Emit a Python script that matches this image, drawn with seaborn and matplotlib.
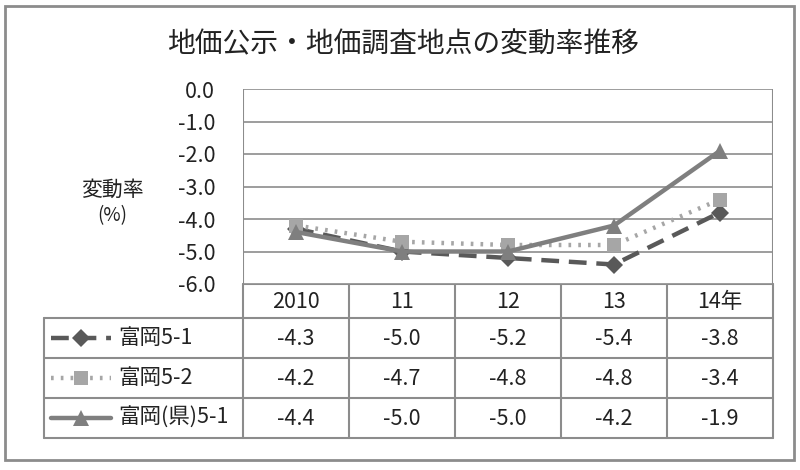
import matplotlib
matplotlib.use("Agg")
import matplotlib.pyplot as plt
import seaborn as sns
import pandas as pd
from matplotlib.lines import Line2D
from matplotlib.patches import Rectangle

sns.set_style("white")
plt.rcParams['font.family'] = ['Noto Sans CJK JP', 'DejaVu Sans']

# data
years = ["2010", "11", "12", "13", "14年"]
series_names = ["富岡5-1", "富岡5-2", "富岡(県)5-1"]
tomioka_5_1 = [-4.3, -5.0, -5.2, -5.4, -3.8]
tomioka_5_2 = [-4.2, -4.7, -4.8, -4.8, -3.4]
tomioka_ken_5_1 = [-4.4, -5.0, -5.0, -4.2, -1.9]
y_ticks = [0.0, -1.0, -2.0, -3.0, -4.0, -5.0, -6.0]

values = [tomioka_5_1, tomioka_5_2, tomioka_ken_5_1]
colors = ["#595959", "#A6A6A6", "#7F7F7F"]
styles = [(0, (4, 2.2)), (0, (0.6, 1.6)), "-"]
markers = ["D", "s", "^"]
msizes = [9, 10.5, 11]

W, H = 800, 470
fig = plt.figure(figsize=(W / 100, H / 100), dpi=100)

# pixel layout
px_left, px_right = 243, 773
px_top, px_bottom = 89, 284
row_edges = [284, 318, 358, 398, 438]
leg_left = 44
txt = "#222222"
num_fs = 15.5

ax = fig.add_axes([px_left / W, 1 - px_bottom / H,
                   (px_right - px_left) / W, (px_bottom - px_top) / H])

df = pd.DataFrame({"x": list(range(len(years))) * 3,
                   "v": tomioka_5_1 + tomioka_5_2 + tomioka_ken_5_1,
                   "s": sum([[n] * len(years) for n in series_names], [])})

for i, name in enumerate(series_names):
    sub = df[df["s"] == name]
    sns.lineplot(data=sub, x="x", y="v", ax=ax, color=colors[i],
                 linewidth=3.2, linestyle=styles[i], marker=markers[i],
                 markersize=msizes[i], markeredgewidth=0,
                 markeredgecolor=colors[i], legend=False, zorder=3 + i)

ax.set_xlim(-0.5, len(years) - 0.5)
ax.set_ylim(-6.0, 0.0)
ax.set_yticks(y_ticks)
ax.set_yticklabels([f"{t:.1f}" for t in y_ticks], fontsize=num_fs, color=txt)
ax.tick_params(axis="y", length=0, pad=20)
ax.set_xticks([])
ax.set_xlabel("")
ax.set_ylabel("")
ax.grid(axis="y", color="#8C8C8C", linewidth=1.2)
for sp in ax.spines.values():
    sp.set_visible(False)
ax.axvline(-0.5, color="#8C8C8C", linewidth=1.5)
ax.axvline(len(years) - 0.5, color="#8C8C8C", linewidth=1.5)

# overlay for title, table and frame in pixel coordinates
ov = fig.add_axes([0, 0, 1, 1], zorder=-1)
ov.set_xlim(0, W)
ov.set_ylim(H, 0)
ov.axis("off")
ov.add_patch(Rectangle((5, 6), 789, 454, fill=False, edgecolor="#8C8C8C", linewidth=2))

fig.text(403 / W, 1 - 44 / H, "地価公示・地価調査地点の変動率推移",
         ha="center", va="center", fontsize=20, color=txt)
fig.text(112 / W, 1 - 190 / H, "変動率", ha="center", va="center",
         fontsize=15, color=txt)
fig.text(112 / W, 1 - 216 / H, "(%)", ha="center", va="center",
         fontsize=13.5, color=txt)

tl = dict(color="#8C8C8C", linewidth=1.5)
col_w = (px_right - px_left) / len(years)
col_x = [px_left + k * col_w for k in range(len(years) + 1)]
# horizontal table lines
ov.plot([px_left, px_right], [row_edges[0]] * 2, **tl)
for yy in row_edges[1:]:
    ov.plot([leg_left, px_right], [yy, yy], **tl)
# vertical table lines
for xx in col_x:
    ov.plot([xx, xx], [row_edges[0], row_edges[-1]], **tl)
ov.plot([leg_left, leg_left], [row_edges[1], row_edges[-1]], **tl)

for k, lab in enumerate(years):
    ov.text(col_x[k] + col_w / 2, (row_edges[0] + row_edges[1]) / 2 + 1, lab,
            ha="center", va="center", fontsize=num_fs, color=txt)

for i, name in enumerate(series_names):
    yc = (row_edges[i + 1] + row_edges[i + 2]) / 2
    for k, v in enumerate(values[i]):
        ov.text(col_x[k] + col_w / 2, yc + 1, f"{v:.1f}", ha="center",
                va="center", fontsize=num_fs, color=txt)
    ov.add_line(Line2D([51, 111], [yc, yc], color=colors[i], linewidth=3.2,
                       linestyle=styles[i]))
    ov.add_line(Line2D([81], [yc], color=colors[i], marker=markers[i],
                       markersize=msizes[i], markeredgewidth=0))
    ov.text(118, yc, name, ha="left", va="center", fontsize=15.5, color=txt)

fig.savefig("out.png", dpi=100, facecolor="white")
